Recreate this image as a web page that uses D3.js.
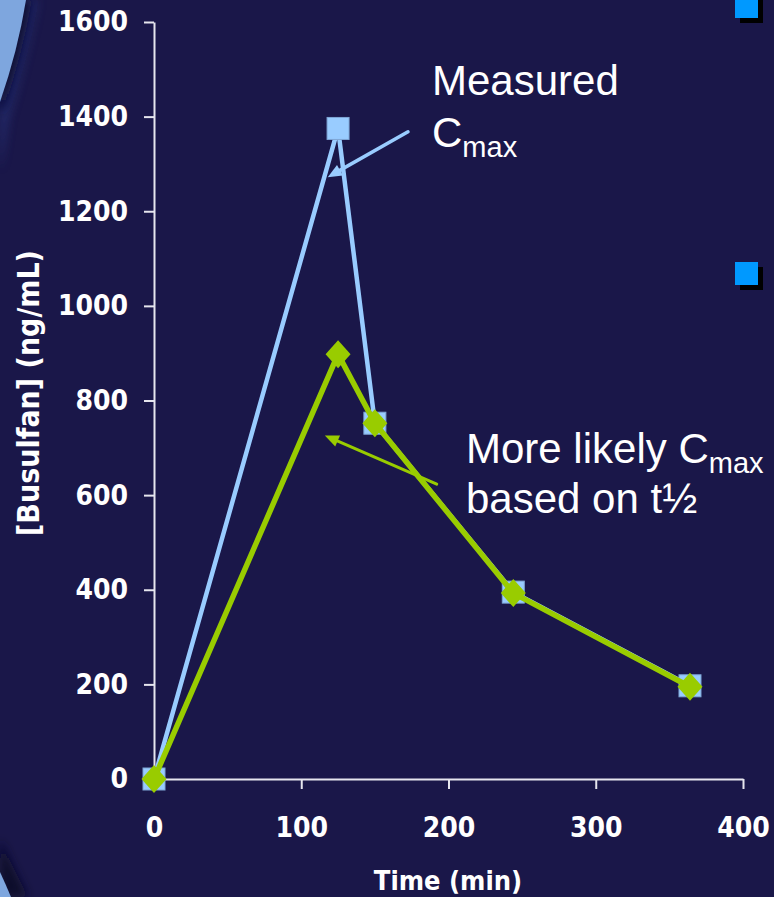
<!DOCTYPE html>
<html><head><meta charset="utf-8">
<script src="https://cdn.jsdelivr.net/npm/d3@7"></script>
<style>
html,body{margin:0;padding:0;background:#1a1749;overflow:hidden;}
svg{display:block;}
</style></head>
<body>
<svg id="chart" width="774" height="897"></svg>
<script>
// ---- data ----
const timeMin = [0, 125, 150, 244, 364];
const measured = [0, 1375, 752, 395, 197];
const likely = [0, 898, 752, 393, 195];
const xTicks = [0, 100, 200, 300, 400];
const yTicks = [0, 200, 400, 600, 800, 1000, 1200, 1400, 1600];
const xTitle = "Time (min)";
const yTitle = "[Busulfan] (ng/mL)";
// annotation arrows in data units: [fromX, fromY, toX, toY]
const arrowMeasured = [172.5, 1368, 118, 1272];
const arrowLikely = [192, 623, 116, 726];

const svg = d3.select("#chart");
const W = 774, H = 897;
const bg = "#1a1749";
svg.append("rect").attr("width", W).attr("height", H).attr("fill", bg);

// slide decoration on the left edge
const defs = svg.append("defs");
const blur = defs.append("filter").attr("id","soft").attr("x","-50%").attr("y","-50%").attr("width","200%").attr("height","200%");
blur.append("feGaussianBlur").attr("stdDeviation", 5);
svg.append("path").attr("d","M0,0 L38,0 Q26,60 8,120 Q4,150 0,170 Z").attr("fill","#2a3a86").attr("opacity",0.55).attr("filter","url(#soft)");
svg.append("path").attr("d","M0,0 L32,0 Q22,55 4,108 L0,112 Z").attr("fill","#100e30").attr("filter","url(#soft)");
svg.append("path").attr("d","M0,0 L26,0 Q18,50 0,102 Z").attr("fill","#7ea6de");
svg.append("path").attr("d","M0,840 Q14,870 28,897 L0,897 Z").attr("fill","#0e0c2c").attr("filter","url(#soft)");
svg.append("path").attr("d","M0,872 Q6,885 11,897 L0,897 Z").attr("fill","#7ea6de");

// bullets on the right
[[735,-5],[735,262]].forEach(([bx,by])=>{
  svg.append("rect").attr("x",bx+5).attr("y",by+5).attr("width",23).attr("height",23).attr("fill","#000");
  svg.append("rect").attr("x",bx).attr("y",by).attr("width",23).attr("height",23).attr("fill","#0099ff");
});

const x = d3.scaleLinear().domain([0, 400]).range([154, 743]);
const y = d3.scaleLinear().domain([0, 1600]).range([779, 22]);

const tickFont = "'DejaVu Sans Condensed','DejaVu Sans',sans-serif";
const axisColor = "#e6e6ee";

const yAxis = svg.append("g").attr("transform", `translate(${x(0)},0)`)
  .call(d3.axisLeft(y).tickValues(yTicks).tickSize(10).tickSizeOuter(0).tickPadding(16).tickFormat(d3.format("d")));
const xAxis = svg.append("g").attr("transform", `translate(0,${y(0)})`)
  .call(d3.axisBottom(x).tickValues(xTicks).tickSize(10).tickSizeOuter(0).tickPadding(28).tickFormat(d3.format("d")));
[yAxis, xAxis].forEach(a => {
  a.select(".domain").attr("stroke", axisColor).attr("stroke-width", 2);
  a.selectAll(".tick line").attr("stroke", axisColor).attr("stroke-width", 2);
  a.selectAll(".tick text").attr("fill", "#ffffff").attr("font-family", tickFont)
    .attr("font-weight", "bold").attr("font-size", 28);
});

// axis titles
svg.append("text").attr("x", 448).attr("y", 890).attr("text-anchor", "middle")
  .attr("fill", "#fff").attr("font-family", tickFont).attr("font-weight", "bold").attr("font-size", 27)
  .text(xTitle);
svg.append("text").attr("transform", "translate(39,393) rotate(-90)").attr("text-anchor", "middle")
  .attr("fill", "#fff").attr("font-family", tickFont).attr("font-weight", "bold").attr("font-size", 30)
  .text(yTitle);

const blue = "#99ccff", green = "#99cc00";
const lineGen = d3.line().x(d => x(d[0])).y(d => y(d[1]));
const mPts = timeMin.map((t, i) => [t, measured[i]]);
const lPts = timeMin.map((t, i) => [t, likely[i]]);

svg.append("path").attr("d", lineGen(mPts)).attr("fill", "none").attr("stroke", blue)
  .attr("stroke-width", 4.5).attr("stroke-linejoin", "miter");
svg.selectAll(".sq").data(mPts).enter().append("rect").attr("class", "sq")
  .attr("x", d => x(d[0]) - 11).attr("y", d => y(d[1]) - 11).attr("width", 22).attr("height", 22)
  .attr("fill", blue).attr("stroke", "#7fa7d6").attr("stroke-width", 1);

svg.append("path").attr("d", lineGen(lPts)).attr("fill", "none").attr("stroke", green)
  .attr("stroke-width", 5.5).attr("stroke-linejoin", "miter");
svg.selectAll(".dm").data(lPts).enter().append("path").attr("class", "dm")
  .attr("d", d => { const cx = x(d[0]), cy = y(d[1]); return `M${cx},${cy-14} L${cx+12.5},${cy} L${cx},${cy+14} L${cx-12.5},${cy} Z`; })
  .attr("fill", green);

// arrows
function arrow(a, color, width) {
  const x1 = x(a[0]), y1 = y(a[1]), x2 = x(a[2]), y2 = y(a[3]);
  const ang = Math.atan2(y2 - y1, x2 - x1);
  const len = 14, half = 6;
  const bx = x2 - len * Math.cos(ang), by = y2 - len * Math.sin(ang);
  const px = -Math.sin(ang) * half, py = Math.cos(ang) * half;
  svg.append("line").attr("x1", x1).attr("y1", y1).attr("x2", bx + (x2-bx)*0.3).attr("y2", by + (y2-by)*0.3)
    .attr("stroke", color).attr("stroke-width", width).attr("stroke-linecap", "round");
  svg.append("path").attr("d", `M${x2},${y2} L${bx+px},${by+py} L${bx-px},${by-py} Z`).attr("fill", color);
}
arrow(arrowMeasured, blue, 3.5);
arrow(arrowLikely, green, 3);

// annotation texts
const annFont = "'Liberation Sans', Arial, sans-serif";
function ann(xp, yp, main, sub) {
  const t = svg.append("text").attr("x", xp).attr("y", yp).attr("fill", "#fff")
    .attr("font-family", annFont).attr("font-size", 42);
  t.append("tspan").text(main);
  if (sub) t.append("tspan").attr("font-size", 29).attr("dy", 10).text(sub);
}
ann(432, 95, "Measured");
ann(432, 147, "C", "max");
ann(466, 463, "More likely C", "max");
ann(466, 513, "based on t\u00BD");
</script>
</body></html>
